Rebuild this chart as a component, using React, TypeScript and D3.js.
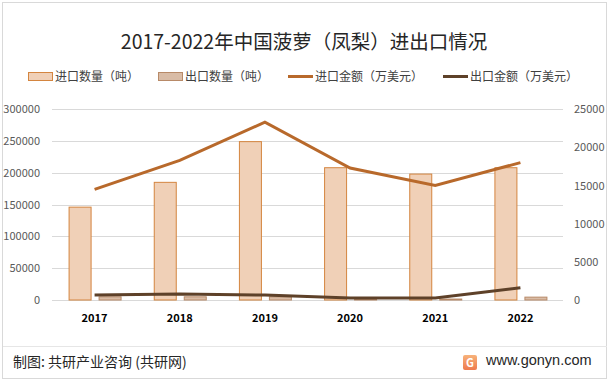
import React from "react";
import * as d3 from "d3";

const years = ["2017", "2018", "2019", "2020", "2021", "2022"];
const importQty = [146000, 185000, 249000, 208000, 198000, 208000];
const exportQty = [5000, 5000, 5000, 1500, 1500, 4500];
const importVal = [14500, 18300, 23300, 17300, 15000, 18000];
const exportVal = [650, 800, 650, 250, 250, 1600];
const leftTicks = [0, 50000, 100000, 150000, 200000, 250000, 300000];
const rightTicks = [0, 5000, 10000, 15000, 20000, 25000];

const W = 611, H = 384;
const L = 52, R = 563, T = 109.2, B = 300;
const FONT = "'Noto Sans CJK SC', 'Noto Sans', sans-serif";

const C_IMP_FILL = "#F0D0B7", C_IMP_STROKE = "#D4853F";
const C_EXP_FILL = "#D9BCA6", C_EXP_STROKE = "#B88A68";
const C_IMP_LINE = "#B8692B", C_EXP_LINE = "#5E4129";

export default function App() {
  const x = d3.scaleBand().domain(years).range([L, R]);
  const yL = d3.scaleLinear().domain([0, 300000]).range([B, T]);
  const yR = d3.scaleLinear().domain([0, 25000]).range([B, T]);
  const bw = 22, gap = 8;
  const cx = (d: string) => (x(d) as number) + x.bandwidth() / 2;
  const impLine = d3.line<number>().x((_, i) => cx(years[i])).y((v) => yR(v));
  const expLine = d3.line<number>().x((_, i) => cx(years[i])).y((v) => yR(v));

  const legend = [
    { type: "bar", fill: C_IMP_FILL, stroke: C_IMP_STROKE, label: "进口数量（吨）", x: 28 },
    { type: "bar", fill: C_EXP_FILL, stroke: C_EXP_STROKE, label: "出口数量（吨）", x: 158 },
    { type: "line", stroke: C_IMP_LINE, label: "进口金额（万美元）", x: 288 },
    { type: "line", stroke: C_EXP_LINE, label: "出口金额（万美元）", x: 443 },
  ];

  return (
    <svg width={W} height={H} style={{ position: "absolute", left: 0, top: 0, background: "#fff" }} fontFamily={FONT}>
      <defs>
        <linearGradient id="logoG" x1="0" y1="0" x2="0" y2="1">
          <stop offset="0" stopColor="#F7B27A" />
          <stop offset="1" stopColor="#EE7A4E" />
        </linearGradient>
      </defs>
      <rect x={2.5} y={2.5} width={604} height={376} fill="#fff" stroke="#D9D9D9" />
      <text x={304} y={48.5} textAnchor="middle" fontSize={19.5} fill="#262626">
        2017-2022年中国菠萝（凤梨）进出口情况
      </text>
      {legend.map((l, i) => (
        <g key={i}>
          {l.type === "bar" ? (
            <rect x={l.x + 0.5} y={72.5} width={24} height={8} fill={l.fill} stroke={l.stroke} />
          ) : (
            <line x1={l.x} x2={l.x + 25} y1={76.5} y2={76.5} stroke={l.stroke} strokeWidth={3} />
          )}
          <text x={l.x + 27} y={81} fontSize={12} fill="#404040">{l.label}</text>
        </g>
      ))}
      {leftTicks.map((t) => (
        <g key={t}>
          <line x1={L} x2={R} y1={Math.round(yL(t)) + 0.5} y2={Math.round(yL(t)) + 0.5} stroke="#D9D9D9" />
          <text x={40} y={yL(t) + 4} textAnchor="end" fontSize={11} fill="#595959">{t}</text>
        </g>
      ))}
      {rightTicks.map((t) => (
        <text key={t} x={574} y={yR(t) + 4} textAnchor="start" fontSize={11} fill="#595959">{t}</text>
      ))}
      {years.map((yr, i) => (
        <g key={yr}>
          <rect x={cx(yr) - gap / 2 - bw + 0.5} y={yL(importQty[i])} width={bw} height={B - yL(importQty[i])}
            fill={C_IMP_FILL} stroke={C_IMP_STROKE} />
          <rect x={cx(yr) + gap / 2 + 0.5} y={yL(exportQty[i])} width={bw} height={B - yL(exportQty[i])}
            fill={C_EXP_FILL} stroke={C_EXP_STROKE} />
          <text x={cx(yr)} y={322} textAnchor="middle" fontSize={11} fontWeight="bold" fill="#000">{yr}</text>
        </g>
      ))}
      <path d={impLine(importVal) || ""} fill="none" stroke={C_IMP_LINE} strokeWidth={3} />
      <path d={expLine(exportVal) || ""} fill="none" stroke={C_EXP_LINE} strokeWidth={3} />
      <line x1={3} x2={607} y1={346.5} y2={346.5} stroke="#E6E6E6" />
      <text x={13} y={367} fontSize={14} fill="#262626">制图: 共研产业咨询 (共研网)</text>
      <g transform="translate(463,355)">
        <rect x={0} y={0} width={14} height={15} rx={2} fill="url(#logoG)" />
        <text x={7} y={12} textAnchor="middle" fontSize={11} fontWeight="bold" fill="#fff">G</text>
      </g>
      <text x={486} y={365} fontSize={14.5} fill="#262626" fontFamily="'Liberation Sans', Arial, sans-serif">www.gonyn.com</text>
    </svg>
  );
}
